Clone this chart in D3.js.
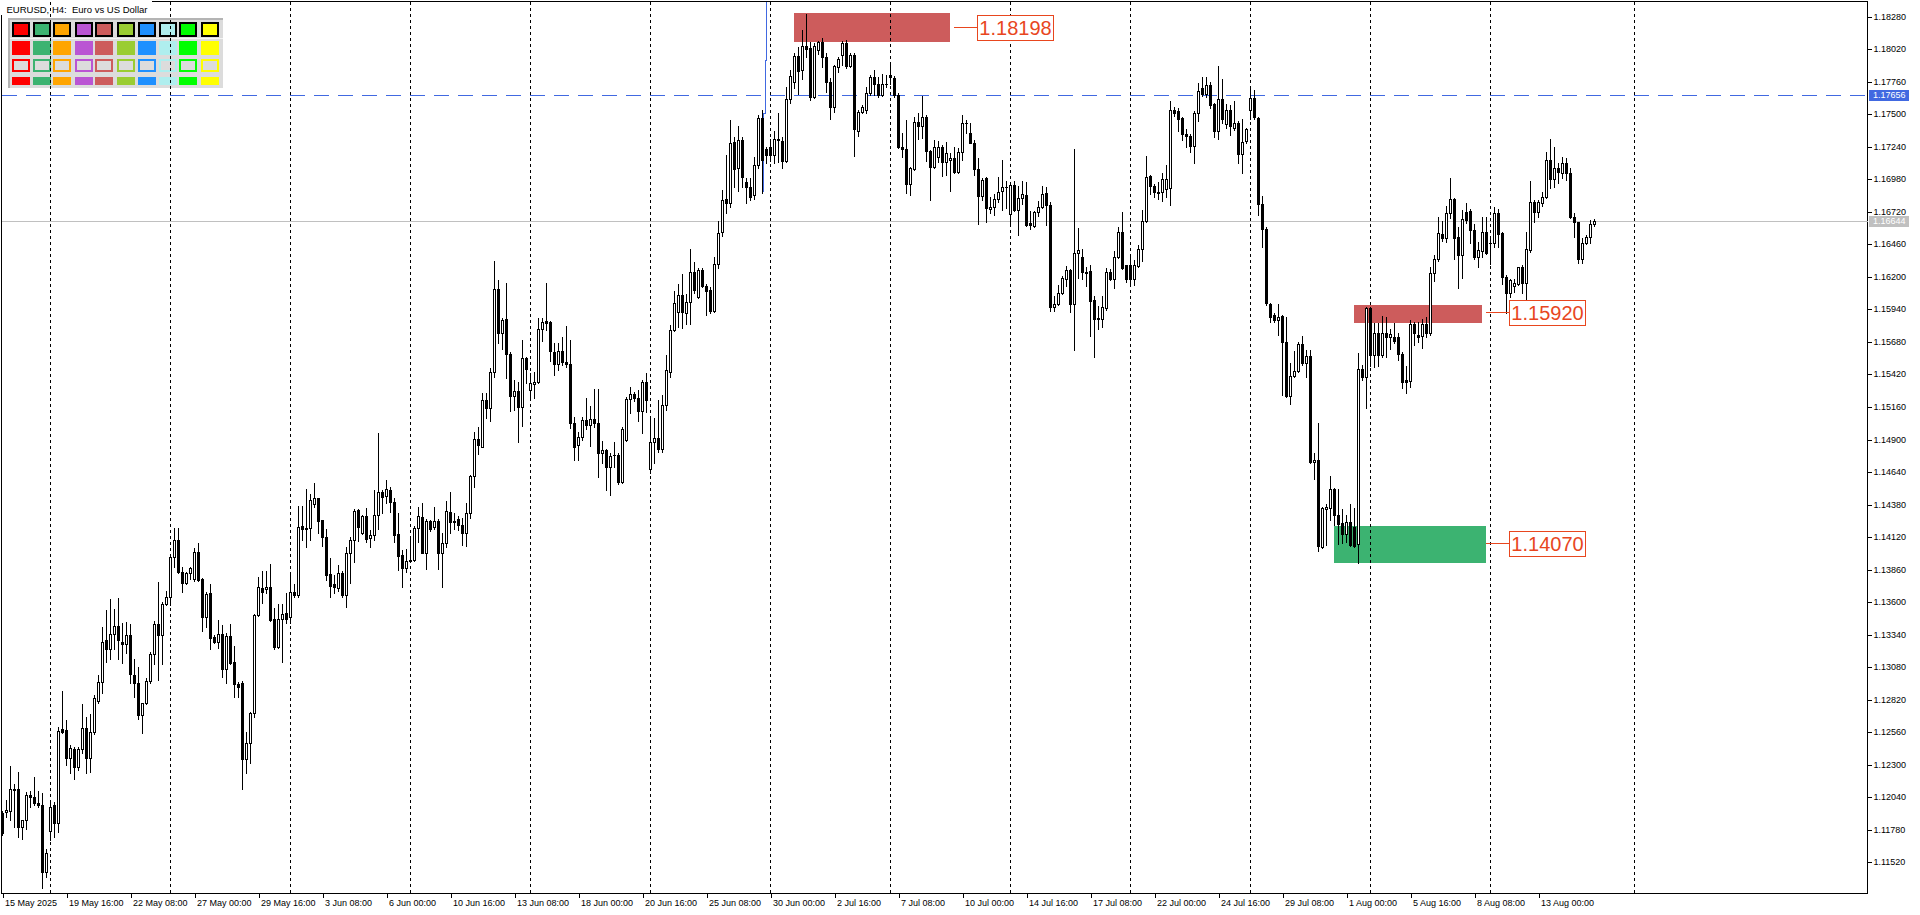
<!DOCTYPE html>
<html><head><meta charset="utf-8">
<script src="https://cdn.jsdelivr.net/npm/d3@7"></script>
<style>
html,body{margin:0;padding:0;background:#fff;overflow:hidden}
svg{display:block}
text{font-family:"Liberation Sans",Arial,sans-serif}
</style></head><body>
<svg id="chart" width="1920" height="915"></svg>
<script>
const chartTitle = "EURUSD, H4:  Euro vs US Dollar";

const open = [
1.11916,1.11919,1.11932,1.12103,1.12103,1.11805,1.11858,1.12055,1.12039,1.11996,
1.11975,1.11445,1.11767,1.11975,1.11836,1.12583,1.12577,1.12356,1.12423,1.12279,
1.12423,1.12591,1.12351,1.12564,1.12807,1.12961,1.13294,1.13222,1.13342,1.13409,
1.13284,1.13268,1.13337,1.13017,1.12950,1.12695,1.12796,1.12966,1.13182,1.13425,
1.13337,1.13585,1.13638,1.13963,1.14096,1.13843,1.13750,1.13830,1.13782,1.13998,
1.13782,1.13483,1.13670,1.13318,1.13278,1.13342,1.13062,1.13329,1.13118,1.12945,
1.12950,1.12343,1.12476,1.12716,1.13497,1.13713,1.13702,1.13723,1.13462,1.13244,
1.13462,1.13510,1.13478,1.13683,1.13657,1.14208,1.14182,1.14192,1.14384,1.14430,
1.14256,1.14118,1.13822,1.13744,1.13710,1.13829,1.13656,1.13989,1.14096,1.14336,
1.14149,1.14288,1.14109,1.14136,1.14296,1.14480,1.14448,1.14496,1.14403,1.14144,
1.13973,1.13869,1.13931,1.13936,1.14189,1.14283,1.13995,1.14248,1.14203,1.14248,
1.13989,1.14075,1.14323,1.14251,1.14261,1.14213,1.14155,1.14309,1.14608,1.14901,
1.14842,1.15215,1.15149,1.15436,1.16100,1.15754,1.15860,1.15580,1.15247,1.15287,
1.15162,1.15554,1.15295,1.15341,1.15357,1.15780,1.15844,1.15839,1.15602,1.15503,
1.15607,1.15519,1.15503,1.15034,1.14858,1.14917,1.15055,1.15015,1.15061,1.15029,
1.14789,1.14816,1.14682,1.14774,1.14776,1.14562,1.14895,1.15223,1.15261,1.15229,
1.15130,1.15357,1.14661,1.14882,1.14909,1.14821,1.15176,1.15442,1.15775,1.15922,
1.16058,1.15914,1.16002,1.16236,1.16042,1.16255,1.16130,1.16095,1.15930,1.16300,
1.16561,1.16820,1.16788,1.17278,1.17068,1.17294,1.16956,1.16916,1.16854,1.17094,
1.17467,1.17220,1.17241,1.17172,1.17300,1.17284,1.17129,1.17622,1.17755,1.17963,
1.17857,1.18043,1.18030,1.17641,1.18011,1.18078,1.17955,1.17758,1.17561,1.17875,
1.17971,1.18067,1.17886,1.17971,1.17369,1.17521,1.17534,1.17667,1.17795,1.17742,
1.17654,1.17742,1.17811,1.17787,1.17654,1.17241,1.17222,1.16940,1.17065,1.17435,
1.17406,1.17481,1.17206,1.17081,1.17161,1.17238,1.17121,1.17132,1.17150,1.17041,
1.17196,1.17427,1.17353,1.17273,1.17060,1.16846,1.16988,1.16740,1.16756,1.16820,
1.16883,1.16918,1.16701,1.16935,1.16738,1.16832,1.16852,1.16629,1.16609,1.16718,
1.16758,1.16872,1.16775,1.15958,1.15987,1.16075,1.16186,1.16252,1.15981,1.16389,
1.16358,1.16238,1.16244,1.16015,1.15873,1.15867,1.15953,1.16238,1.16187,1.16358,
1.16558,1.16295,1.16295,1.16187,1.16289,1.16424,1.16644,1.17009,1.16929,1.16881,
1.16881,1.16901,1.16909,1.17537,1.17523,1.17472,1.17346,1.17323,1.17249,1.17509,
1.17709,1.17660,1.17731,1.17580,1.17366,1.17623,1.17423,1.17537,1.17394,1.17432,
1.17180,1.17286,1.17537,1.17631,1.17472,1.16786,1.16581,1.15987,1.15895,1.15853,
1.15887,1.15681,1.15244,1.15410,1.15444,1.15667,1.15514,1.15567,1.14723,1.14736,
1.14038,1.14342,1.14349,1.14501,1.14296,1.14229,1.14142,1.14243,1.14198,1.14064,
1.15461,1.15397,1.15948,1.15575,1.15748,1.15575,1.15748,1.15722,1.15717,1.15717,
1.15583,1.15375,1.15370,1.15823,1.15735,1.15727,1.15823,1.15748,1.16234,1.16340,
1.16540,1.16508,1.16708,1.16820,1.16516,1.16375,1.16721,1.16729,1.16575,1.16361,
1.16410,1.16561,1.16468,1.16473,1.16713,1.16548,1.16202,1.16068,1.16127,1.16143,
1.16282,1.16148,1.16415,1.16801,1.16721,1.16793,1.16836,1.17134,1.16980,1.17068,
1.17033,1.17108,1.17033,1.16681,1.16641,1.16340,1.16473,1.16521,1.16622];

const high = [
1.11930,1.12018,1.12290,1.12146,1.12242,1.11858,1.12082,1.12092,1.12199,1.12092,
1.12071,1.11623,1.12012,1.12004,1.12604,1.12889,1.12657,1.12457,1.12444,1.12444,
1.12785,1.12679,1.12705,1.12855,1.13017,1.13398,1.13537,1.13622,1.13542,1.13630,
1.13430,1.13441,1.13422,1.13148,1.13084,1.12796,1.12990,1.13201,1.13446,1.13761,
1.13601,1.13691,1.13985,1.14190,1.14190,1.13883,1.13843,1.13883,1.14030,1.14070,
1.13790,1.13683,1.13745,1.13337,1.13457,1.13417,1.13350,1.13425,1.13249,1.12964,
1.12972,1.12564,1.12724,1.13505,1.13803,1.13849,1.13849,1.13902,1.13550,1.13585,
1.13585,1.13670,1.13817,1.13745,1.14371,1.14371,1.14502,1.14462,1.14549,1.14435,
1.14260,1.14182,1.13949,1.13816,1.13896,1.13851,1.14043,1.14123,1.14341,1.14347,
1.14296,1.14349,1.14176,1.14496,1.14949,1.14496,1.14576,1.14522,1.14429,1.14309,
1.14016,1.14021,1.14118,1.14208,1.14357,1.14394,1.14261,1.14256,1.14357,1.14261,
1.14155,1.14410,1.14482,1.14309,1.14288,1.14269,1.14389,1.14616,1.14962,1.15002,
1.15269,1.15269,1.15468,1.16327,1.16175,1.15868,1.16148,1.15602,1.15375,1.15357,
1.15692,1.15562,1.15429,1.15442,1.15868,1.15868,1.16154,1.15850,1.15674,1.15668,
1.15722,1.15807,1.15695,1.15082,1.14962,1.15082,1.15229,1.15170,1.15301,1.15301,
1.14890,1.14824,1.14794,1.14880,1.14789,1.14997,1.15237,1.15322,1.15282,1.15295,
1.15375,1.15434,1.15082,1.15069,1.15215,1.15256,1.15575,1.15815,1.16087,1.16143,
1.16223,1.16063,1.16423,1.16322,1.16273,1.16268,1.16143,1.16122,1.16361,1.16649,
1.16894,1.17174,1.17454,1.17316,1.17406,1.17321,1.16988,1.16988,1.17161,1.17494,
1.17534,1.17241,1.17300,1.17369,1.17507,1.17321,1.17715,1.17854,1.17987,1.18040,
1.18174,1.18302,1.18080,1.18072,1.18088,1.18107,1.17987,1.17787,1.17894,1.17960,
1.18088,1.18094,1.17992,1.17992,1.17534,1.17571,1.17715,1.17814,1.17854,1.17800,
1.17822,1.17814,1.17918,1.17806,1.17667,1.17353,1.17454,1.17081,1.17481,1.17507,
1.17646,1.17494,1.17214,1.17294,1.17289,1.17254,1.17281,1.17193,1.17241,1.17228,
1.17494,1.17454,1.17433,1.17294,1.17148,1.16988,1.17001,1.16841,1.16862,1.17001,
1.17137,1.16966,1.16952,1.16969,1.16923,1.16966,1.16958,1.16724,1.16724,1.16809,
1.16923,1.16918,1.16795,1.16044,1.16138,1.16209,1.16289,1.16267,1.17223,1.16589,
1.16424,1.16278,1.16295,1.16044,1.15967,1.16044,1.16272,1.16267,1.16409,1.16595,
1.16718,1.16295,1.16381,1.16338,1.16452,1.16738,1.17166,1.17015,1.16946,1.16958,
1.17032,1.17095,1.17603,1.17557,1.17551,1.17480,1.17380,1.17346,1.17523,1.17746,
1.17794,1.17794,1.17757,1.17594,1.17888,1.17780,1.17580,1.17574,1.17603,1.17443,
1.17460,1.17394,1.17723,1.17694,1.17480,1.16843,1.16595,1.15995,1.15910,1.15987,
1.15895,1.15881,1.15510,1.15604,1.15681,1.15724,1.15615,1.15615,1.14789,1.15029,
1.14363,1.14384,1.14608,1.14509,1.14501,1.14341,1.14296,1.14384,1.14349,1.15594,
1.15495,1.15962,1.15962,1.15828,1.15828,1.15887,1.15882,1.15780,1.15831,1.15748,
1.15602,1.15487,1.15855,1.15842,1.15842,1.15860,1.15882,1.16282,1.16375,1.16681,
1.16649,1.16767,1.16988,1.16828,1.16596,1.16735,1.16788,1.16740,1.16622,1.16481,
1.16676,1.16676,1.16521,1.16756,1.16740,1.16561,1.16215,1.16180,1.16180,1.16282,
1.16295,1.16561,1.16969,1.16814,1.16814,1.16881,1.17201,1.17300,1.17236,1.17108,
1.17156,1.17148,1.17068,1.16713,1.16641,1.16508,1.16535,1.16654,1.16660];

const low = [
1.11740,1.11884,1.11858,1.11805,1.11725,1.11703,1.11783,1.11964,1.11975,1.11964,
1.11311,1.11405,1.11698,1.11725,1.11764,1.12551,1.12297,1.12236,1.12183,1.12258,
1.12391,1.12236,1.12244,1.12545,1.12796,1.12871,1.13118,1.13142,1.13228,1.13148,
1.13110,1.13196,1.12956,1.12844,1.12663,1.12556,1.12785,1.12950,1.13105,1.12977,
1.13105,1.13577,1.13577,1.13878,1.13830,1.13683,1.13745,1.13782,1.13771,1.13771,
1.13369,1.13404,1.13225,1.13270,1.13230,1.13004,1.12956,1.13105,1.12839,1.12839,
1.12103,1.12236,1.12311,1.12684,1.13489,1.13595,1.13670,1.13451,1.13225,1.13230,
1.13124,1.13435,1.13435,1.13643,1.13638,1.14096,1.14038,1.14096,1.14363,1.14155,
1.14048,1.13776,1.13643,1.13670,1.13691,1.13643,1.13563,1.13750,1.13923,1.14091,
1.14144,1.14083,1.14043,1.14096,1.14181,1.14315,1.14394,1.14323,1.14083,1.13856,
1.13718,1.13843,1.13923,1.13931,1.14083,1.13989,1.13861,1.14171,1.14181,1.13861,
1.13723,1.14043,1.14155,1.14181,1.14176,1.14056,1.14048,1.14269,1.14522,1.14784,
1.14837,1.15069,1.15050,1.15402,1.15668,1.15620,1.15389,1.15127,1.15135,1.14882,
1.15007,1.15349,1.15242,1.15229,1.15349,1.15690,1.15775,1.15530,1.15415,1.15455,
1.15495,1.15482,1.14989,1.14736,1.14736,1.14896,1.14981,1.14848,1.15002,1.14602,
1.14709,1.14496,1.14456,1.14682,1.14544,1.14549,1.14890,1.15109,1.15210,1.15050,
1.14954,1.15122,1.14629,1.14714,1.14802,1.14800,1.15136,1.15402,1.15770,1.15797,
1.15789,1.15823,1.15823,1.16074,1.16028,1.16116,1.15895,1.15908,1.15922,1.16268,
1.16527,1.16708,1.16761,1.16916,1.16889,1.16921,1.16793,1.16815,1.16823,1.17068,
1.16868,1.17108,1.17129,1.17113,1.17121,1.17073,1.17121,1.17593,1.17707,1.17662,
1.17779,1.17960,1.17614,1.17627,1.17982,1.17881,1.17681,1.17465,1.17521,1.17841,
1.17891,1.17867,1.17875,1.17169,1.17326,1.17513,1.17513,1.17654,1.17654,1.17641,
1.17646,1.17715,1.17742,1.17635,1.17228,1.17161,1.16868,1.16854,1.17054,1.17300,
1.17308,1.17126,1.16815,1.17068,1.17121,1.17006,1.17014,1.16889,1.17033,1.17028,
1.17134,1.17348,1.17268,1.17014,1.16623,1.16815,1.16641,1.16708,1.16695,1.16801,
1.16738,1.16752,1.16609,1.16729,1.16538,1.16781,1.16609,1.16581,1.16595,1.16689,
1.16752,1.16615,1.15930,1.15924,1.15975,1.16061,1.16124,1.15918,1.15616,1.16195,
1.16187,1.16124,1.15730,1.15559,1.15781,1.15796,1.15938,1.16175,1.16110,1.16347,
1.16261,1.16158,1.16152,1.16138,1.16281,1.16329,1.16638,1.16861,1.16838,1.16823,
1.16809,1.16838,1.16775,1.17489,1.17366,1.17295,1.17237,1.17195,1.17109,1.17443,
1.17643,1.17637,1.17552,1.17317,1.17300,1.17432,1.17394,1.17337,1.17374,1.17109,
1.17032,1.17272,1.17460,1.17460,1.16695,1.16438,1.15975,1.15838,1.15838,1.15738,
1.15253,1.15239,1.15187,1.15396,1.15439,1.15496,1.15397,1.14709,1.14581,1.14011,
1.14030,1.14056,1.14256,1.14216,1.14064,1.14070,1.14083,1.14048,1.14038,1.13915,
1.15375,1.15149,1.15487,1.15482,1.15487,1.15557,1.15562,1.15620,1.15674,1.15535,
1.15309,1.15274,1.15322,1.15655,1.15682,1.15629,1.15722,1.15735,1.16170,1.16329,
1.16489,1.16481,1.16668,1.16340,1.16108,1.16188,1.16628,1.16473,1.16340,1.16282,
1.16356,1.16383,1.16303,1.16441,1.16436,1.16143,1.15908,1.16042,1.16082,1.16135,
1.16068,1.16015,1.16401,1.16641,1.16681,1.16767,1.16828,1.16908,1.16921,1.16948,
1.16988,1.16974,1.16668,1.16521,1.16308,1.16308,1.16463,1.16473,1.16606];

const close = [
1.11751,1.11938,1.12103,1.12100,1.11805,1.11858,1.12055,1.12039,1.11996,1.11975,
1.11445,1.11597,1.11964,1.11836,1.12572,1.12561,1.12356,1.12431,1.12279,1.12423,
1.12591,1.12351,1.12564,1.12833,1.12961,1.13284,1.13222,1.13342,1.13409,1.13294,
1.13268,1.13337,1.13022,1.12950,1.12695,1.12796,1.12966,1.13182,1.13425,1.13337,
1.13585,1.13638,1.13963,1.14096,1.13843,1.13750,1.13830,1.13870,1.13998,1.13777,
1.13483,1.13665,1.13310,1.13284,1.13342,1.13062,1.13329,1.13110,1.12943,1.12924,
1.12343,1.12476,1.12716,1.13497,1.13718,1.13678,1.13723,1.13457,1.13244,1.13462,
1.13502,1.13465,1.13683,1.13657,1.14203,1.14187,1.14192,1.14416,1.14430,1.14251,
1.14118,1.13816,1.13728,1.13718,1.13829,1.13656,1.13989,1.14096,1.14328,1.14197,
1.14288,1.14101,1.14136,1.14296,1.14480,1.14437,1.14501,1.14400,1.14136,1.13968,
1.13869,1.13928,1.13936,1.14189,1.14288,1.13995,1.14251,1.14181,1.14248,1.13989,
1.14075,1.14328,1.14237,1.14237,1.14213,1.14155,1.14309,1.14608,1.14901,1.14856,
1.15215,1.15149,1.15436,1.16100,1.15754,1.15855,1.15580,1.15247,1.15287,1.15162,
1.15548,1.15463,1.15349,1.15357,1.15780,1.15842,1.15834,1.15610,1.15503,1.15610,
1.15522,1.15503,1.15029,1.14837,1.14917,1.15055,1.15015,1.15061,1.15029,1.14789,
1.14816,1.14682,1.14768,1.14776,1.14562,1.14981,1.15226,1.15261,1.15229,1.15130,
1.15357,1.15215,1.14882,1.14909,1.14821,1.15176,1.15455,1.15775,1.15988,1.16058,
1.15922,1.16002,1.16236,1.16095,1.16255,1.16130,1.16090,1.15930,1.16300,1.16548,
1.16815,1.16788,1.17273,1.17060,1.17294,1.16996,1.16916,1.16841,1.17094,1.17467,
1.17134,1.17174,1.17172,1.17300,1.17294,1.17129,1.17622,1.17803,1.17963,1.17849,
1.18043,1.18024,1.17641,1.18043,1.18078,1.17960,1.17758,1.17561,1.17883,1.17944,
1.18067,1.17886,1.17971,1.17380,1.17521,1.17555,1.17667,1.17795,1.17742,1.17654,
1.17742,1.17745,1.17795,1.17654,1.17241,1.17222,1.16940,1.17068,1.17435,1.17409,
1.17481,1.17209,1.17081,1.17241,1.17238,1.17121,1.17193,1.17150,1.17041,1.17196,
1.17427,1.17433,1.17273,1.17060,1.16846,1.16972,1.16748,1.16756,1.16820,1.16881,
1.16918,1.16915,1.16935,1.16738,1.16832,1.16861,1.16618,1.16615,1.16718,1.16758,
1.16866,1.16775,1.15958,1.15987,1.16075,1.16192,1.16252,1.15987,1.16389,1.16415,
1.16238,1.16235,1.16010,1.15867,1.15861,1.15958,1.16238,1.16187,1.16358,1.16558,
1.16272,1.16181,1.16187,1.16295,1.16424,1.16644,1.16995,1.16923,1.16881,1.16872,
1.16980,1.16980,1.17537,1.17509,1.17466,1.17346,1.17323,1.17249,1.17509,1.17689,
1.17666,1.17731,1.17572,1.17366,1.17623,1.17460,1.17537,1.17403,1.17429,1.17180,
1.17280,1.17386,1.17631,1.17480,1.16786,1.16581,1.15995,1.15881,1.15853,1.15881,
1.15681,1.15244,1.15410,1.15444,1.15667,1.15510,1.15567,1.14723,1.14736,1.14048,
1.14349,1.14363,1.14501,1.14296,1.14224,1.14142,1.14243,1.14056,1.14048,1.15461,
1.15397,1.15949,1.15575,1.15748,1.15575,1.15748,1.15722,1.15740,1.15690,1.15583,
1.15362,1.15362,1.15823,1.15754,1.15722,1.15823,1.15748,1.16234,1.16340,1.16553,
1.16508,1.16708,1.16820,1.16508,1.16375,1.16660,1.16654,1.16575,1.16361,1.16415,
1.16561,1.16393,1.16473,1.16713,1.16543,1.16202,1.16068,1.16175,1.16148,1.16276,
1.16148,1.16420,1.16801,1.16721,1.16801,1.16836,1.17134,1.16980,1.17068,1.17041,
1.17108,1.17033,1.16681,1.16641,1.16340,1.16473,1.16521,1.16622,1.16644];

const timeLabels = ["15 May 2025","19 May 16:00","22 May 08:00","27 May 00:00","29 May 16:00",
  "3 Jun 08:00","6 Jun 00:00","10 Jun 16:00","13 Jun 08:00","18 Jun 00:00","20 Jun 16:00",
  "25 Jun 08:00","30 Jun 00:00","2 Jul 16:00","7 Jul 08:00","10 Jul 00:00","14 Jul 16:00",
  "17 Jul 08:00","22 Jul 00:00","24 Jul 16:00","29 Jul 08:00","1 Aug 00:00","5 Aug 16:00",
  "8 Aug 08:00","13 Aug 00:00"];
const timeLabelBars = timeLabels.map((d, i) => i * 16);

const priceTicks = [1.18280,1.18020,1.17760,1.17500,1.17240,1.16980,1.16720,1.16460,1.16200,
  1.15940,1.15680,1.15420,1.15160,1.14900,1.14640,1.14380,1.14120,1.13860,1.13600,1.13340,
  1.13080,1.12820,1.12560,1.12300,1.12040,1.11780,1.11520];

const weekGridBars = [12,42,72,102,132,162,192,222,252,282,312,342,372,408];

const zoneFrom   = [197.9, 337.9, 332.9];
const zoneTo     = [236.9, 369.9, 370.9];
const zoneTop    = [1.18312, 1.15975, 1.14208];
const zoneBottom = [1.18078, 1.15834, 1.13915];
const zoneColor  = ["#cd5c5c", "#cd5c5c", "#3cb371"];

const calloutPrice = [1.18198, 1.15920, 1.14070];
const calloutBar   = [237.9, 370.9, 370.9];

const bidPrice = 1.16644;
const levelPrice = 1.17656;
const blueTrace = [[190.9,1.18450],[190.9,1.17934],[190.6,1.17934],[190.6,1.17510],[190.0,1.17510],[190.0,1.16879]];

const palette = ["#ff0000","#3cb371","#ffa500","#ba55d3","#cd5c5c","#9acd32","#1e90ff","#afeeee","#00ff00","#ffff00"];

// ---------------------------------------------------------------
const svg = d3.select("#chart");
const W = 1920, H = 915;
const plotL = 1.5, plotT = 1.5, plotR = 1867.5, plotB = 893.5;

const x = d3.scaleLinear().domain([0, 400]).range([2.5, 1602.5]);
const y = d3.scaleLinear().domain([1.18280, 1.11520]).range([16.7, 862.3]);
const py = p => Math.round(y(p));

svg.append("rect").attr("width", W).attr("height", H).attr("fill", "#fff");

// frame
const frame = svg.append("g").attr("stroke", "#000").attr("stroke-width", 1).attr("shape-rendering", "crispEdges");
frame.append("line").attr("x1", plotL).attr("x2", plotR).attr("y1", plotT).attr("y2", plotT);
frame.append("line").attr("x1", plotL).attr("x2", plotL).attr("y1", plotT).attr("y2", plotB);
frame.append("line").attr("x1", plotR).attr("x2", plotR).attr("y1", plotT).attr("y2", plotB);
frame.append("line").attr("x1", plotL).attr("x2", plotR).attr("y1", plotB).attr("y2", plotB);

// title background (hides frame under title)
svg.append("rect").attr("x", 0).attr("y", 0).attr("width", 152).attr("height", 15).attr("fill", "#fff");

// palette panel
const panel = svg.append("g").attr("shape-rendering", "crispEdges");
panel.append("rect").attr("x", 8).attr("y", 18).attr("width", 215).attr("height", 70).attr("fill", "#dcdcdc");
panel.append("rect").attr("x", 8).attr("y", 18).attr("width", 215).attr("height", 2).attr("fill", "#b4b4b4");
panel.append("rect").attr("x", 8).attr("y", 18).attr("width", 2).attr("height", 70).attr("fill", "#b4b4b4");
panel.append("rect").attr("x", 10).attr("y", 38).attr("width", 213).attr("height", 1).attr("fill", "#f4f4f4");
const colX = d3.scaleLinear().domain([0, 9]).range([11.5, 200.5]);
const swW = 17.5;
palette.forEach((c, k) => {
  const x0 = Math.round(colX(k));
  panel.append("rect").attr("x", x0 + 1).attr("y", 23).attr("width", 16).attr("height", 13)
    .attr("fill", c).attr("stroke", "#000").attr("stroke-width", 2);
  panel.append("rect").attr("x", x0).attr("y", 41).attr("width", 18).attr("height", 14).attr("fill", c);
  panel.append("rect").attr("x", x0 + 1).attr("y", 59.5).attr("width", 16).attr("height", 11)
    .attr("fill", "#dcdcdc").attr("stroke", c).attr("stroke-width", 2);
  panel.append("rect").attr("x", x0).attr("y", 77).attr("width", 18).attr("height", 8).attr("fill", c);
});

// zones
const zg = svg.append("g").attr("shape-rendering", "crispEdges");
zoneFrom.forEach((f, k) => {
  const x0 = Math.round(x(f)), x1 = Math.round(x(zoneTo[k]));
  const y0 = py(zoneTop[k]), y1 = py(zoneBottom[k]);
  zg.append("rect").attr("x", x0).attr("y", y0).attr("width", x1 - x0).attr("height", y1 - y0).attr("fill", zoneColor[k]);
});

// weekly grid
svg.append("g").selectAll("line").data(weekGridBars).join("line")
  .attr("x1", d => x(d)).attr("x2", d => x(d)).attr("y1", 2).attr("y2", 893)
  .attr("stroke", "#000").attr("stroke-width", 1).attr("stroke-dasharray", "3,3")
  .attr("shape-rendering", "crispEdges");

// bid line & level line
svg.append("line").attr("x1", 2).attr("x2", plotR).attr("y1", py(bidPrice) + 0.5).attr("y2", py(bidPrice) + 0.5)
  .attr("stroke", "#c0c0c0").attr("stroke-width", 1).attr("shape-rendering", "crispEdges");
svg.append("line").attr("x1", 2).attr("x2", plotR).attr("y1", py(levelPrice) + 0.5).attr("y2", py(levelPrice) + 0.5)
  .attr("stroke", "#4169e1").attr("stroke-width", 1).attr("stroke-dasharray", "15,9").attr("shape-rendering", "crispEdges");
svg.append("path")
  .attr("d", d3.line().x(d => Math.round(x(d[0])) + 0.5).y(d => Math.max(2, py(d[1])))(blueTrace))
  .attr("fill", "none").attr("stroke", "#4169e1").attr("stroke-width", 1).attr("shape-rendering", "crispEdges");

// candles
const bars = d3.range(open.length).map(i => ({i, o: open[i], h: high[i], l: low[i], c: close[i]}));
const cg = svg.append("g").attr("shape-rendering", "crispEdges");
bars.forEach(b => {
  const cx = Math.round(x(b.i) - 0.5);
  const yh = py(Math.max(b.h, b.o, b.c)), yl = py(Math.min(b.l, b.o, b.c));
  cg.append("rect").attr("x", cx).attr("y", yh).attr("width", 1).attr("height", yl - yh + 1).attr("fill", "#000");
  const yt = py(Math.max(b.o, b.c)), yb = py(Math.min(b.o, b.c));
  if (b.c >= b.o) {
    if (yb - yt < 1) {
      cg.append("rect").attr("x", cx - 1).attr("y", yt).attr("width", 3).attr("height", 1).attr("fill", "#000");
    } else {
      cg.append("rect").attr("x", cx - 0.5).attr("y", yt + 0.5).attr("width", 2).attr("height", yb - yt)
        .attr("fill", "#fff").attr("stroke", "#000").attr("stroke-width", 1);
    }
  } else {
    cg.append("rect").attr("x", cx - 1).attr("y", yt).attr("width", 3).attr("height", Math.max(1, yb - yt + 1)).attr("fill", "#000");
  }
});

// callouts
const calloutColor = "#e8461e";
const cog = svg.append("g");
calloutPrice.forEach((p, k) => {
  const ax = Math.round(x(calloutBar[k]));
  const yy = py(p) + 0.5;
  cog.append("line").attr("x1", ax).attr("x2", ax + 23).attr("y1", yy).attr("y2", yy)
    .attr("stroke", calloutColor).attr("stroke-width", 1).attr("shape-rendering", "crispEdges");
  cog.append("rect").attr("x", ax + 23 + 0.5).attr("y", Math.round(yy - 12.5) + 0.5).attr("width", 76).attr("height", 25)
    .attr("fill", "#fff").attr("stroke", calloutColor).attr("stroke-width", 1).attr("shape-rendering", "crispEdges");
  cog.append("text").attr("x", ax + 23 + 38.5).attr("y", yy + 7.5).attr("text-anchor", "middle")
    .attr("font-size", 20).attr("fill", calloutColor).text(d3.format(".5f")(p));
});

// right price axis
const ya = svg.append("g").attr("transform", `translate(${plotR},0)`)
  .call(d3.axisRight(y).tickValues(priceTicks).tickSize(4).tickPadding(2).tickFormat(d3.format(".5f")));
ya.select(".domain").remove();
ya.selectAll(".tick").attr("transform", d => `translate(0,${py(d) + 0.5})`);
ya.selectAll(".tick line").attr("stroke", "#000").attr("shape-rendering", "crispEdges");
ya.selectAll(".tick text").attr("font-size", 9).attr("font-family", "Liberation Sans, Arial, sans-serif").attr("fill", "#000");

// price tags on axis
function priceTag(p, bg) {
  const yy = py(p);
  svg.append("rect").attr("x", plotR + 1.5).attr("y", yy - 5).attr("width", 40).attr("height", 11).attr("fill", bg)
    .attr("shape-rendering", "crispEdges");
  svg.append("text").attr("x", 1873).attr("y", yy + 0.5).attr("dy", "0.32em").attr("font-size", 9)
    .attr("fill", "#fff").text(d3.format(".5f")(p));
}
priceTag(levelPrice, "#4169e1");
priceTag(bidPrice, "#c0c0c0");

// bottom time axis
const xa = svg.append("g").attr("transform", `translate(0,${plotB})`)
  .call(d3.axisBottom(x).tickValues(timeLabelBars).tickSize(4).tickPadding(3).tickFormat((d, i) => timeLabels[i]));
xa.select(".domain").remove();
xa.selectAll(".tick line").attr("stroke", "#000").attr("shape-rendering", "crispEdges");
xa.selectAll(".tick text").attr("text-anchor", "start").attr("x", 2).attr("y", 6).attr("dy", "0.71em")
  .attr("font-size", 9).attr("font-family", "Liberation Sans, Arial, sans-serif").attr("fill", "#000");

// title
svg.append("text").attr("x", 6.5).attr("y", 12.5).attr("font-size", 9.5).attr("fill", "#000")
  .style("white-space", "pre").text(chartTitle);
</script>
</body></html>
